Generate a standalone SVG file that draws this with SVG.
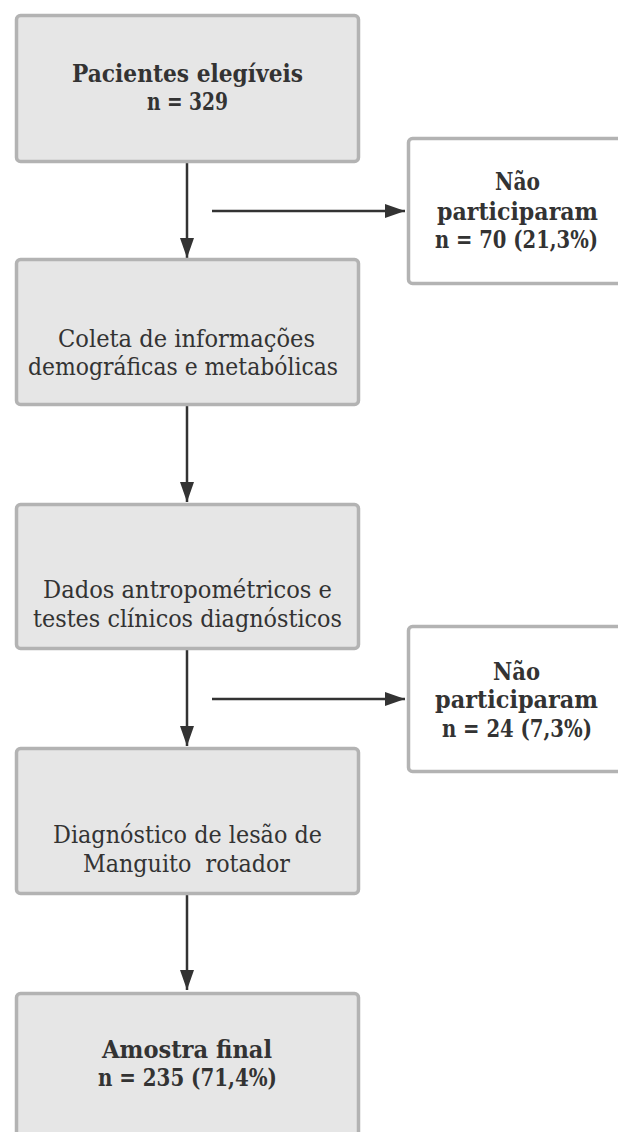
<svg xmlns="http://www.w3.org/2000/svg" width="618" height="1132" viewBox="0 0 618 1132">
<defs>
<style>
.box{fill:#e6e6e6;stroke:#b3b3b3;stroke-width:3.5}
.wbox{fill:#ffffff;stroke:#b3b3b3;stroke-width:3.5}
.t{font-family:"DejaVu Serif","Liberation Serif",serif;font-size:23.5px;fill:#333333;text-anchor:middle}
.b{font-weight:bold}
.conn{stroke:#333333;stroke-width:2.5;fill:none}
</style>
<marker id="ah" markerUnits="userSpaceOnUse" markerWidth="20" markerHeight="14" refX="20" refY="7" orient="auto">
<path d="M0,0 L20,7 L0,14 Z" fill="#333333"/>
</marker>
</defs>
<rect width="618" height="1132" fill="#ffffff"/>
<g id="connectors">
<line class="conn" x1="187" y1="163" x2="187" y2="258" marker-end="url(#ah)"/>
<line class="conn" x1="212" y1="211" x2="405" y2="211" marker-end="url(#ah)"/>
<line class="conn" x1="187" y1="406" x2="187" y2="502" marker-end="url(#ah)"/>
<line class="conn" x1="187" y1="650" x2="187" y2="746" marker-end="url(#ah)"/>
<line class="conn" x1="212" y1="699" x2="405" y2="699" marker-end="url(#ah)"/>
<line class="conn" x1="187" y1="895" x2="187" y2="990" marker-end="url(#ah)"/>
</g>
<g id="node-pacientes">
<rect class="box" x="16.5" y="15.5" width="342" height="146" rx="4"/>
<text class="t b" x="187.5" y="82" textLength="231" lengthAdjust="spacingAndGlyphs">Pacientes elegíveis</text>
<text class="t b" x="187.5" y="110" textLength="81" lengthAdjust="spacingAndGlyphs">n = 329</text>
</g>
<g id="node-nao1">
<rect class="wbox" x="408.5" y="138.5" width="250" height="145" rx="4"/>
<text class="t b" x="517.5" y="190" textLength="45" lengthAdjust="spacingAndGlyphs">Não</text>
<text class="t b" x="517.5" y="220" textLength="161" lengthAdjust="spacingAndGlyphs">participaram</text>
<text class="t b" x="516.5" y="248" textLength="163" lengthAdjust="spacingAndGlyphs">n = 70 (21,3%)</text>
</g>
<g id="node-coleta">
<rect class="box" x="16.5" y="259.5" width="342" height="145" rx="4"/>
<text class="t" x="186.5" y="347" textLength="257" lengthAdjust="spacingAndGlyphs">Coleta de informações</text>
<text class="t" x="183" y="375" textLength="310" lengthAdjust="spacingAndGlyphs">demográficas e metabólicas</text>
</g>
<g id="node-dados">
<rect class="box" x="16.5" y="504.5" width="342" height="144" rx="4"/>
<text class="t" x="187.5" y="598" textLength="289" lengthAdjust="spacingAndGlyphs">Dados antropométricos e</text>
<text class="t" x="187.5" y="627" textLength="309" lengthAdjust="spacingAndGlyphs">testes clínicos diagnósticos</text>
</g>
<g id="node-nao2">
<rect class="wbox" x="408.5" y="626.5" width="250" height="145" rx="4"/>
<text class="t b" x="516.5" y="680" textLength="47" lengthAdjust="spacingAndGlyphs">Não</text>
<text class="t b" x="516.5" y="708" textLength="163" lengthAdjust="spacingAndGlyphs">participaram</text>
<text class="t b" x="517" y="737" textLength="150" lengthAdjust="spacingAndGlyphs">n = 24 (7,3%)</text>
</g>
<g id="node-diagnostico">
<rect class="box" x="16.5" y="748.5" width="342" height="145" rx="4"/>
<text class="t" x="187.5" y="843" textLength="269" lengthAdjust="spacingAndGlyphs">Diagnóstico de lesão de</text>
<text class="t" x="186.5" y="872" textLength="207" lengthAdjust="spacingAndGlyphs" xml:space="preserve">Manguito  rotador</text>
</g>
<g id="node-amostra">
<rect class="box" x="16.5" y="993.5" width="342" height="200" rx="4"/>
<text class="t b" x="187" y="1058" textLength="170" lengthAdjust="spacingAndGlyphs">Amostra final</text>
<text class="t b" x="187.5" y="1086" textLength="179" lengthAdjust="spacingAndGlyphs">n = 235 (71,4%)</text>
</g>
</svg>
